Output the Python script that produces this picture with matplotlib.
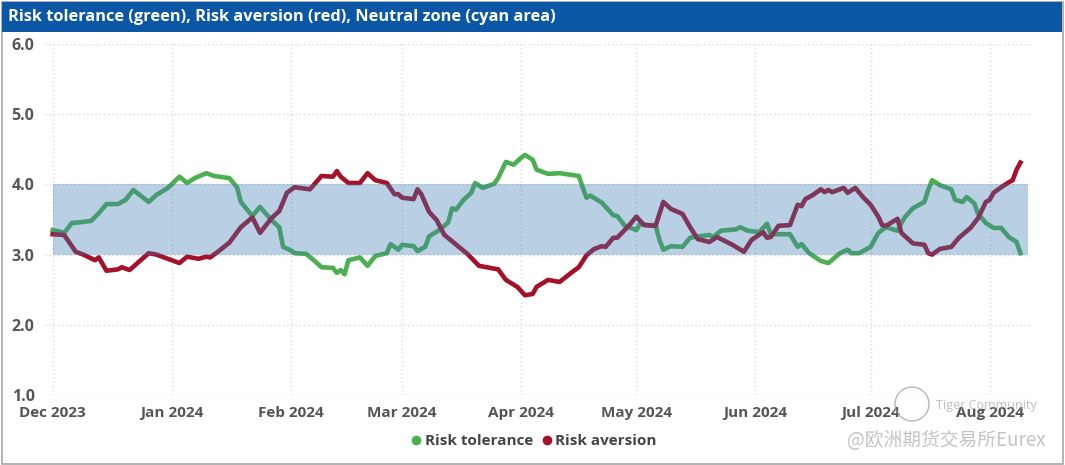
import numpy as np
import pandas as pd
import matplotlib
matplotlib.use("Agg")
import matplotlib.pyplot as plt
import matplotlib.dates as mdates
from matplotlib.patches import Rectangle, Circle
from matplotlib.lines import Line2D
from matplotlib.transforms import IdentityTransform

plt.rcParams['font.family'] = ['Open Sans', 'DejaVu Sans']

# start of series, all x values are days after this date
start = pd.Timestamp('2023-12-01')

tol_day = [0, 3, 5, 7, 10, 12, 14, 17, 19, 21, 25, 27, 30, 33, 35, 37, 40, 42, 46, 48,
           49, 52, 54, 57, 59, 60, 62, 63, 66, 68, 70, 73, 74, 75, 76, 77, 80, 82, 84, 87,
           88, 90, 91, 94, 95, 97, 98, 101, 103, 104, 105, 107, 109, 110, 112, 115, 116, 118, 120, 122,
           123, 125, 126, 129, 132, 137, 138, 139, 140, 143, 146, 147, 149, 152, 153, 155, 157, 158, 159, 161,
           164, 166, 167, 171, 172, 174, 178, 179, 181, 184, 186, 187, 192, 194, 195, 197, 200, 202, 205, 207,
           208, 210, 213, 215, 217, 220, 221, 222, 224, 227, 228, 229, 231, 234, 235, 237, 238, 240, 241, 243,
           245, 247, 249, 251, 252]
tol_val = [3.35, 3.31, 3.45, 3.46, 3.48, 3.59, 3.72, 3.72, 3.78, 3.92, 3.75, 3.85, 3.95, 4.11, 4.02, 4.09, 4.16, 4.12, 4.09, 3.96,
           3.75, 3.55, 3.68, 3.49, 3.39, 3.11, 3.06, 3.02, 3.01, 2.92, 2.82, 2.81, 2.74, 2.78, 2.72, 2.92, 2.96, 2.84, 2.98, 3.02,
           3.15, 3.07, 3.14, 3.12, 3.05, 3.11, 3.26, 3.36, 3.46, 3.66, 3.64, 3.78, 3.88, 4.02, 3.95, 4.01, 4.09, 4.32, 4.28, 4.38,
           4.42, 4.35, 4.21, 4.15, 4.16, 4.12, 3.96, 3.81, 3.84, 3.74, 3.56, 3.55, 3.41, 3.35, 3.44, 3.42, 3.42, 3.21, 3.07, 3.12,
           3.11, 3.24, 3.25, 3.28, 3.25, 3.34, 3.36, 3.39, 3.34, 3.32, 3.44, 3.29, 3.29, 3.11, 3.15, 3.02, 2.91, 2.88, 3.02, 3.07,
           3.02, 3.02, 3.11, 3.31, 3.39, 3.34, 3.45, 3.54, 3.66, 3.75, 3.92, 4.06, 3.99, 3.93, 3.78, 3.75, 3.82, 3.73, 3.58, 3.45,
           3.38, 3.38, 3.25, 3.18, 3.02]

ave_day = [0, 3, 6, 8, 11, 12, 14, 17, 18, 20, 25, 27, 33, 35, 38, 40, 41, 43, 46, 49,
           52, 54, 57, 59, 61, 63, 67, 70, 73, 74, 75, 77, 80, 82, 84, 87, 89, 90, 91, 94,
           95, 96, 98, 100, 102, 104, 108, 111, 116, 118, 121, 123, 125, 126, 129, 132, 135, 137, 139, 141,
           143, 144, 146, 147, 150, 152, 154, 157, 159, 161, 164, 166, 168, 171, 173, 177, 180, 182, 185, 186,
           187, 189, 192, 194, 195, 196, 198, 200, 201, 202, 203, 206, 207, 209, 211, 213, 215, 216, 217, 220,
           221, 224, 227, 228, 229, 231, 234, 236, 239, 241, 243, 244, 245, 247, 249, 250, 251, 252]
ave_val = [3.29, 3.28, 3.04, 3.00, 2.92, 2.96, 2.77, 2.79, 2.82, 2.78, 3.02, 3.00, 2.88, 2.97, 2.94, 2.97, 2.96, 3.04, 3.17, 3.39,
           3.53, 3.31, 3.52, 3.62, 3.88, 3.96, 3.93, 4.12, 4.11, 4.19, 4.11, 4.02, 4.02, 4.16, 4.06, 4.02, 3.86, 3.86, 3.81, 3.79,
           3.93, 3.86, 3.61, 3.49, 3.28, 3.19, 3.01, 2.84, 2.79, 2.64, 2.54, 2.42, 2.44, 2.54, 2.64, 2.61, 2.74, 2.82, 2.99, 3.08,
           3.12, 3.11, 3.24, 3.24, 3.41, 3.54, 3.42, 3.41, 3.75, 3.65, 3.58, 3.39, 3.22, 3.18, 3.25, 3.14, 3.04, 3.21, 3.32, 3.24,
           3.25, 3.41, 3.42, 3.71, 3.69, 3.79, 3.85, 3.93, 3.89, 3.92, 3.89, 3.95, 3.88, 3.95, 3.82, 3.71, 3.54, 3.42, 3.41, 3.51,
           3.31, 3.16, 3.14, 3.02, 3.00, 3.08, 3.11, 3.24, 3.38, 3.52, 3.75, 3.78, 3.88, 3.96, 4.03, 4.06, 4.21, 4.31]

neutral_lo, neutral_hi = 3.0, 4.0
band_days = [0, 254]

tol_x = start + pd.to_timedelta(tol_day, unit='D')
ave_x = start + pd.to_timedelta(ave_day, unit='D')
band_x = start + pd.to_timedelta(band_days, unit='D')

W, H = 1065, 465
fig = plt.figure(figsize=(W / 100, H / 100), dpi=100)
fig.patch.set_facecolor('white')

# outer frame + title bar
fig.patches.append(Rectangle((1.5 / W, 1.5 / H), (W - 4) / W, (H - 4) / H, transform=fig.transFigure,
                             fill=False, ec='#a6a6a6', lw=1.2))
fig.patches.append(Rectangle((2 / W, (H - 32) / H), (W - 5) / W, 30 / H, transform=fig.transFigure,
                             fc='#0b57a5', ec='none'))
fig.text(8 / W, (H - 17) / H, 'Risk tolerance (green), Risk aversion (red), Neutral zone (cyan area)',
         color='white', fontsize=11.8, fontweight='bold', va='center', ha='left')

ax = fig.add_axes([45 / W, 70 / H, 985 / W, 351 / H])
ax.plot(tol_x, tol_val, color='#4caf50', lw=3.3, solid_joinstyle='round', zorder=2)
ax.plot(ave_x, ave_val, color='#a3122a', lw=3.3, solid_joinstyle='round', zorder=2)
ax.fill_between(band_x, neutral_lo, neutral_hi, color='#3f7ab3', alpha=0.36, lw=0, zorder=3)

ax.set_ylim(1, 6)
ax.set_xlim(start - pd.Timedelta(days=2), start + pd.Timedelta(days=254.5))
ax.set_yticks(np.arange(1, 7, 1))
ax.yaxis.set_major_formatter(plt.FormatStrFormatter('%.1f'))
ax.xaxis.set_major_locator(mdates.MonthLocator())
ax.xaxis.set_major_formatter(mdates.DateFormatter('%b %Y'))
ax.grid(True, color='#d9d9d9', ls=(0, (1, 2)), lw=1)
ax.set_axisbelow(True)
for s in ax.spines.values():
    s.set_visible(False)
ax.tick_params(length=0)
ax.tick_params(axis='x', pad=8)
for lab in ax.get_xticklabels():
    lab.set_fontweight('bold'); lab.set_fontsize(11); lab.set_color('#555555')
for lab in ax.get_yticklabels():
    lab.set_fontweight('bold'); lab.set_fontsize(11.5); lab.set_color('#555555')
    lab.set_horizontalalignment('left')
ax.tick_params(axis='y', pad=24)

handles = [Line2D([], [], ls='none', marker='o', ms=6, color='#4caf50'),
           Line2D([], [], ls='none', marker='o', ms=6, color='#a3122a')]
leg = fig.legend(handles, ['Risk tolerance', 'Risk aversion'], loc='center', bbox_to_anchor=(0.5, 1 - 441 / H),
                 ncol=2, frameon=False, handletextpad=0.05, columnspacing=0.4, handlelength=1.0,
                 prop={'weight': 'bold', 'size': 11})
for t in leg.get_texts():
    t.set_color('#444444')

# watermark
fig.patches.append(Circle((912, H - 404), 17, transform=IdentityTransform(), fill=False, ec='#9a9a9a', lw=1, alpha=0.7))
fig.text(936 / W, 1 - 405 / H, 'Tiger Community', color='#b0b0b0', fontsize=9, va='center', ha='left', alpha=0.8)
fig.text(1046 / W, 1 - 440 / H, '@欧洲期货交易所Eurex', color='#c4c4c4', fontsize=13.5, va='center', ha='right',
         family=['Noto Sans CJK SC', 'DejaVu Sans'])

fig.savefig('out.png', dpi=100)
